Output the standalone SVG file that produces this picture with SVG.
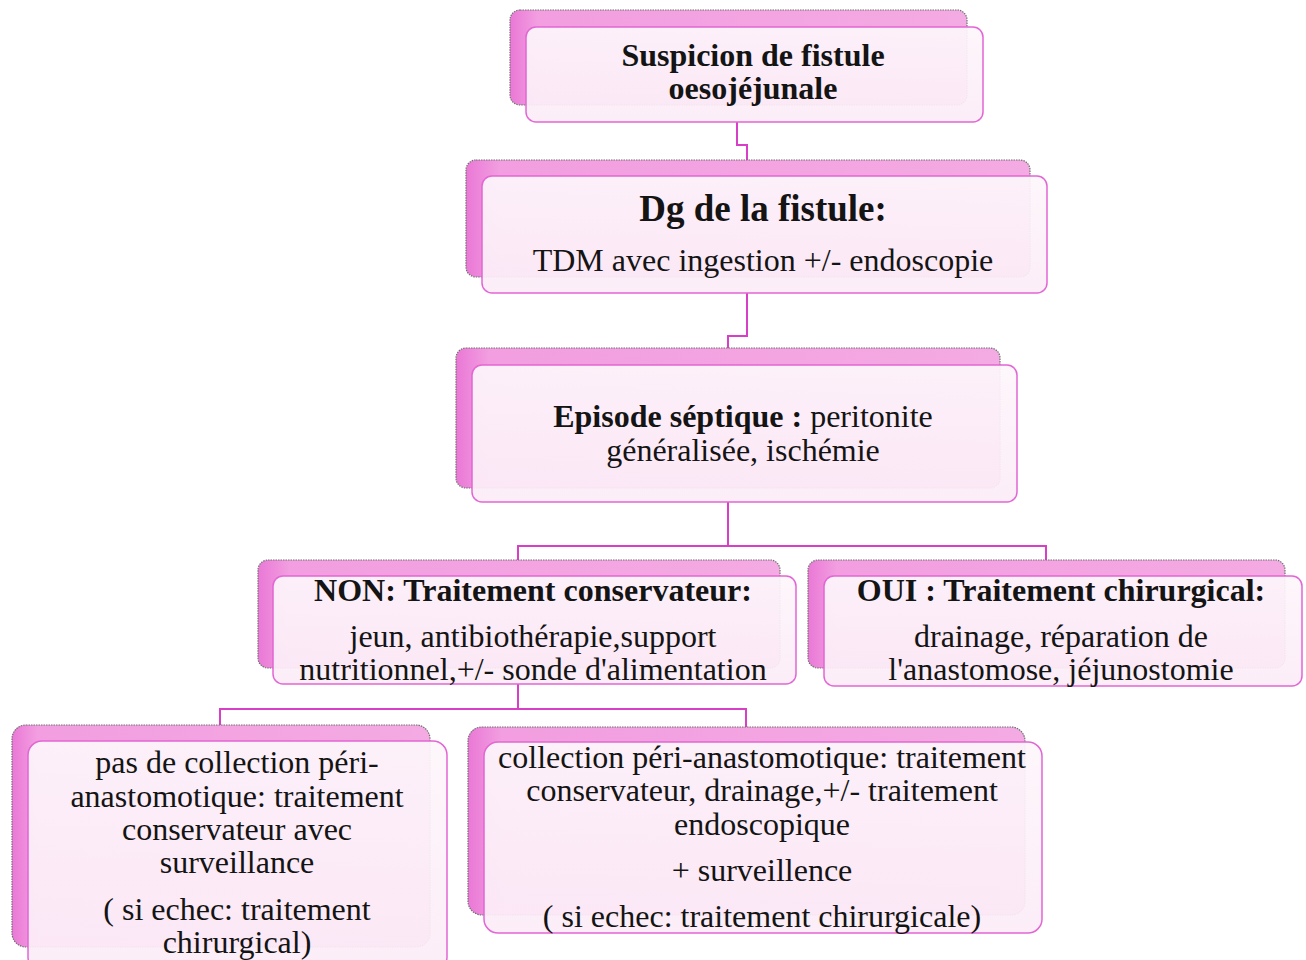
<svg xmlns="http://www.w3.org/2000/svg" width="1306" height="960" viewBox="0 0 1306 960">
<defs>
<linearGradient id="backG" x1="0" y1="0" x2="1" y2="0">
<stop offset="0" stop-color="#ea78d6"/>
<stop offset="0.06" stop-color="#f29ee0"/>
<stop offset="1" stop-color="#f4aae2"/>
</linearGradient>
<linearGradient id="frontG" x1="0" y1="0" x2="0" y2="1">
<stop offset="0" stop-color="#fdf6fb"/>
<stop offset="1" stop-color="#fcecf7"/>
</linearGradient>
</defs>
<style>
.back{fill:url(#backG);stroke:#707070;stroke-width:1.2;stroke-dasharray:1.5 1}
.front{fill:url(#frontG);fill-opacity:0.93;stroke:#e266d4;stroke-width:1.5}
.conn{fill:none;stroke:#d63fc6;stroke-width:2}
text{font-family:"Liberation Serif","Times New Roman",serif;fill:#141414;text-anchor:middle}
.b{font-weight:bold}
.t{font-size:32px}
</style>
<rect width="1306" height="960" fill="#ffffff"/>
<g id="connectors">
<path class="conn" d="M737,122 V145 H747 V160"/>
<path class="conn" d="M747,293 V336 H728 V348"/>
<path class="conn" d="M728,502 V546 M518,560 V546 H1046 V560"/>
<path class="conn" d="M518,684 V709 M220,725 V709 H746 V727"/>
</g>
<g id="n1">
<rect class="back" x="510" y="10" width="457" height="95" rx="10"/>
<rect class="front" x="526" y="27" width="457" height="95" rx="10"/>
<text class="b" x="753" y="66" font-size="32">Suspicion de fistule</text>
<text class="b" x="753" y="99" font-size="32">oesojéjunale</text>
</g>
<g id="n2">
<rect class="back" x="466" y="160" width="564" height="117" rx="10"/>
<rect class="front" x="482" y="176" width="565" height="117" rx="10"/>
<text class="b" x="763" y="221" font-size="37">Dg de la fistule:</text>
<text class="t" x="763" y="271">TDM avec ingestion +/- endoscopie</text>
</g>
<g id="n3">
<rect class="back" x="456" y="348" width="544" height="140" rx="10"/>
<rect class="front" x="472" y="365" width="545" height="137" rx="10"/>
<text class="t" x="743" y="427"><tspan class="b">Episode séptique :</tspan> peritonite</text>
<text class="t" x="743" y="461">généralisée,  ischémie</text>
</g>
<g id="n4">
<rect class="back" x="258" y="560" width="522" height="108" rx="10"/>
<rect class="front" x="273" y="576" width="523" height="108" rx="10"/>
<text class="t b" x="533" y="601">NON: Traitement conservateur:</text>
<text class="t" x="533" y="647">jeun, antibiothérapie,support</text>
<text class="t" x="533" y="680">nutritionnel,+/-  sonde d'alimentation</text>
</g>
<g id="n5">
<rect class="back" x="808" y="560" width="477" height="108" rx="10"/>
<rect class="front" x="824" y="576" width="478" height="110" rx="10"/>
<text class="t b" x="1061" y="601">OUI : Traitement chirurgical:</text>
<text class="t" x="1061" y="647">drainage, réparation de</text>
<text class="t" x="1061" y="680">l'anastomose, jéjunostomie</text>
</g>
<g id="n6">
<rect class="back" x="12" y="725" width="418" height="222" rx="14"/>
<rect class="front" x="28" y="741" width="419" height="230" rx="14"/>
<text class="t" x="237" y="773">pas de collection péri-</text>
<text class="t" x="237" y="807">anastomotique: traitement</text>
<text class="t" x="237" y="840">conservateur avec</text>
<text class="t" x="237" y="873">surveillance</text>
<text class="t" x="237" y="920">( si echec: traitement</text>
<text class="t" x="237" y="953">chirurgical)</text>
</g>
<g id="n7">
<rect class="back" x="468" y="727" width="557" height="188" rx="14"/>
<rect class="front" x="484" y="742" width="558" height="191" rx="14"/>
<text class="t" x="762" y="768">collection péri-anastomotique: traitement</text>
<text class="t" x="762" y="801">conservateur, drainage,+/- traitement</text>
<text class="t" x="762" y="835">endoscopique</text>
<text class="t" x="762" y="881">+ surveillence</text>
<text class="t" x="762" y="927">( si echec: traitement chirurgicale)</text>
</g>
</svg>
